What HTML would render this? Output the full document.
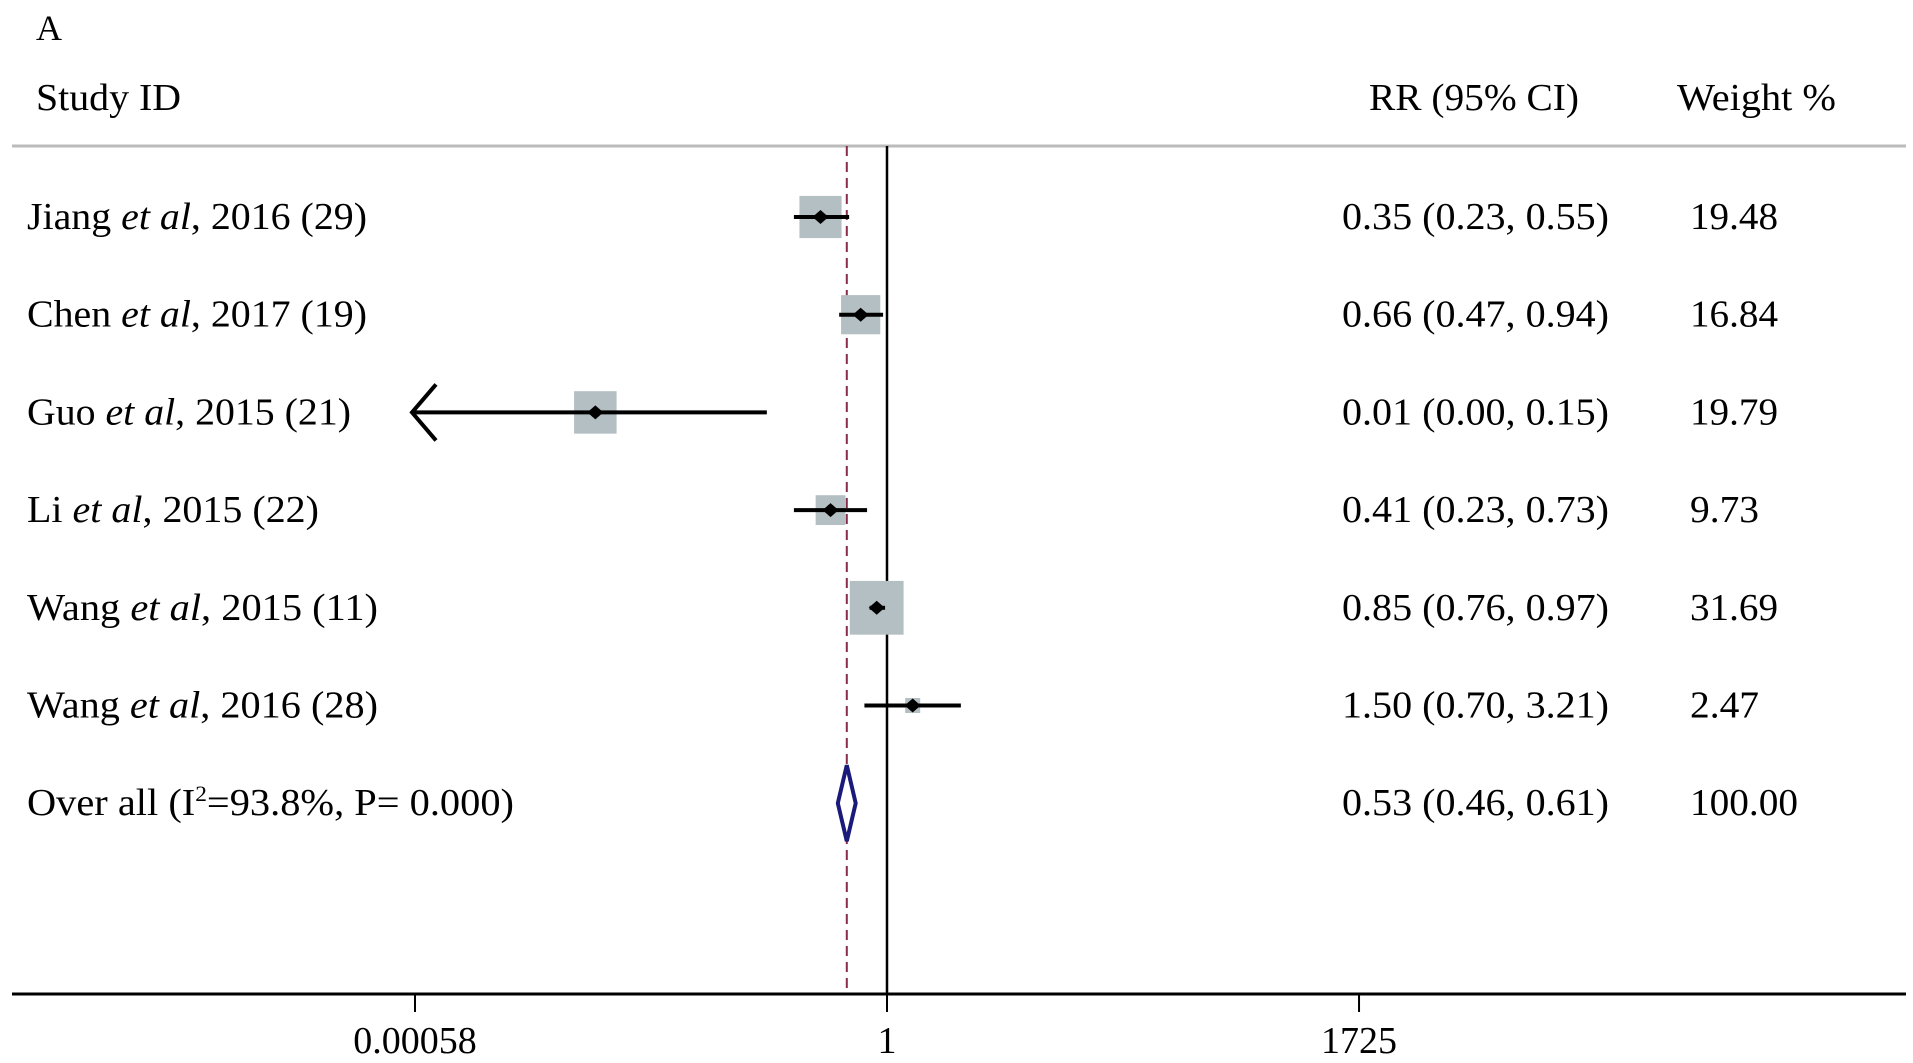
<!DOCTYPE html>
<html><head><meta charset="utf-8"><style>
html,body{margin:0;padding:0;background:#fff;}
svg{display:block;font-family:"Liberation Serif",serif;}
</style></head><body>
<svg id="chart" width="1913" height="1063" viewBox="0 0 1913 1063">
<g transform="translate(-4,0)">
<text x="40" y="40" font-size="36">A</text>
<text x="40" y="110" font-size="38" textLength="145" lengthAdjust="spacingAndGlyphs">Study ID</text>
<text x="1373" y="110" font-size="38" textLength="210" lengthAdjust="spacingAndGlyphs">RR (95% CI)</text>
<text x="1681" y="110" font-size="38" textLength="159" lengthAdjust="spacingAndGlyphs">Weight %</text>
<line x1="16" y1="146" x2="1910" y2="146" stroke="#bbb" stroke-width="3"/>
<g id="marks"></g>
</g>
</svg>
<script>
const studies = ["Jiang","Chen","Guo","Li","Wang 2015","Wang 2016"];
const labelYears = [", 2016 (29)", ", 2017 (19)", ", 2015 (21)", ", 2015 (22)", ", 2015 (11)", ", 2016 (28)"];
const labelNames = ["Jiang ","Chen ","Guo ","Li ","Wang ","Wang "];
const rr = [0.35, 0.66, 0.01, 0.41, 0.85, 1.50];
const lower = [0.23, 0.47, 0.00, 0.23, 0.76, 0.70];
const upper = [0.55, 0.94, 0.15, 0.73, 0.97, 3.21];
const weights = [19.48, 16.84, 19.79, 9.73, 31.69, 2.47];
const rrText = ["0.35 (0.23, 0.55)","0.66 (0.47, 0.94)","0.01 (0.00, 0.15)","0.41 (0.23, 0.73)","0.85 (0.76, 0.97)","1.50 (0.70, 3.21)"];
const weightText = ["19.48","16.84","19.79","9.73","31.69","2.47"];
const overall = [0.53, 0.46, 0.61];
const tickValues = [0.00058, 1, 1725];
const tickLabels = ["0.00058","1","1725"];

const NS="http://www.w3.org/2000/svg";
const g=document.getElementById('marks');
const xMin=0.00058, xMax=1725;
function x(v){ v=Math.max(v,xMin); return 891 + Math.log(v)*(472/Math.log(1/xMin)); }
function rowY(i){ return 217 + i*97.7; }
function mk(tag,attrs){const e=document.createElementNS(NS,tag);for(const k in attrs)e.setAttribute(k,attrs[k]);g.appendChild(e);return e;}

let e=mk('line',{x1:x(1),y1:146,x2:x(1),y2:994,stroke:'#000','stroke-width':2.5});


e=mk('line',{x1:x(overall[0]),y1:146,x2:x(overall[0]),y2:994,stroke:'#8a2a4a','stroke-width':2,'stroke-dasharray':'10,6'});



const labelW=[340,340,324,292,351,351];
studies.forEach((s,i)=>{
  const y=rowY(i);
  const sz=Math.sqrt(weights[i])*9.55;
  let b=mk('rect',{x:x(rr[i])-sz/2,y:y-sz/2,width:sz,height:sz,fill:'#b4bfc3'});
  
  
  const x1=lower[i]<xMin?x(xMin)-3:x(lower[i]);
  let l=mk('line',{x1:x1,y1:y,x2:x(upper[i]),y2:y,stroke:'#000','stroke-width':4});
  
  
  if(lower[i]<xMin){
    let a=mk('polyline',{points:`${x1+24},${y-28} ${x1},${y} ${x1+24},${y+28}`,fill:'none',stroke:'#000','stroke-width':4});
    
    
  }
  const cx=x(rr[i]);
  let p=mk('polygon',{points:`${cx-8},${y} ${cx},${y-7} ${cx+8},${y} ${cx},${y+7}`,fill:'#000'});
  
  
  let t=mk('text',{x:31,y:y+12,'font-size':38,textLength:labelW[i],lengthAdjust:'spacingAndGlyphs'});
  t.innerHTML=labelNames[i]+'<tspan font-style="italic">et al</tspan>'+labelYears[i];
  
  
  let r=mk('text',{x:1346,y:y+12,'font-size':38,textLength:267,lengthAdjust:'spacingAndGlyphs'});
  r.textContent=rrText[i];
  
  
  let w=mk('text',{x:1694,y:y+12,'font-size':38,textLength:weightText[i].length===4?69:88,lengthAdjust:'spacingAndGlyphs'});
  w.textContent=weightText[i];
  
  
});
const oy=rowY(6);
let d=mk('polygon',{points:`${x(overall[1])},${oy} ${x(overall[0])},${oy-38} ${x(overall[2])},${oy} ${x(overall[0])},${oy+38}`,fill:'#fff',stroke:'#1a1a7a','stroke-width':4});


let ot=mk('text',{x:31,y:oy+12,'font-size':38,textLength:487,lengthAdjust:'spacingAndGlyphs'});
ot.innerHTML='Over all (I<tspan font-size="22" dy="-14">2</tspan><tspan dy="14">=93.8%,  P= 0.000)</tspan>';


let orr=mk('text',{x:1346,y:oy+12,'font-size':38,textLength:267,lengthAdjust:'spacingAndGlyphs'});
orr.textContent='0.53 (0.46, 0.61)';


let ow=mk('text',{x:1694,y:oy+12,'font-size':38,textLength:108,lengthAdjust:'spacingAndGlyphs'});
ow.textContent='100.00';



let ax=mk('line',{x1:16,y1:994,x2:1910,y2:994,stroke:'#000','stroke-width':3});


tickValues.forEach((v,i)=>{
  let tk=mk('line',{x1:x(v),y1:994,x2:x(v),y2:1012,stroke:'#000','stroke-width':2});
  
  
  let tl=mk('text',{x:x(v),y:1053,'font-size':38,'text-anchor':'middle'});
  tl.textContent=tickLabels[i];
  
  
});
</script>
</body></html>
